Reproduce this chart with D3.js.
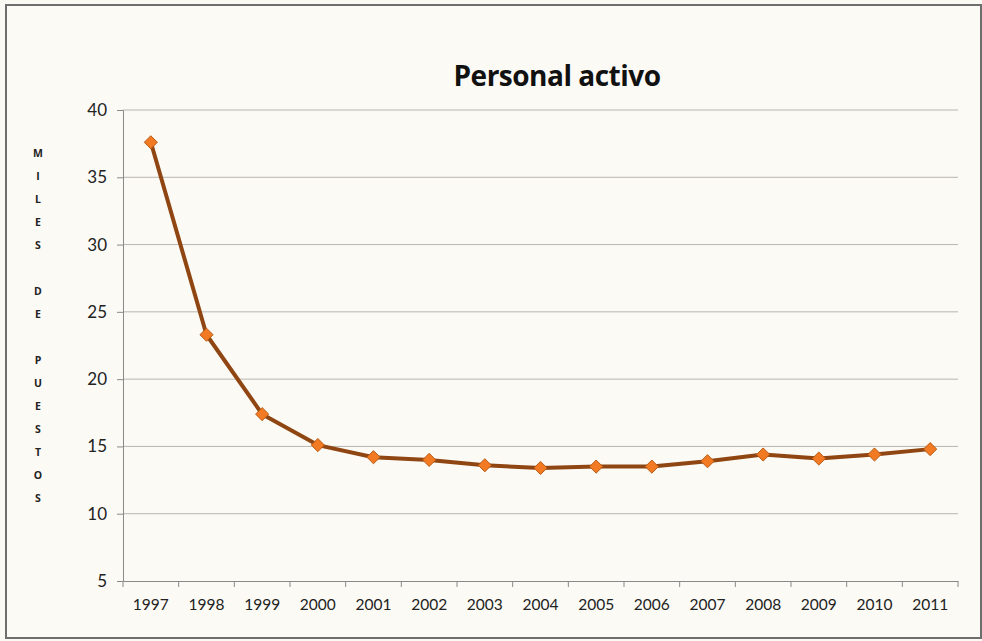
<!DOCTYPE html>
<html>
<head>
<meta charset="utf-8">
<script src="https://cdn.jsdelivr.net/npm/d3@7"></script>
<style>
  body { margin: 0; background: #fbf9f3; }
  svg { display: block; }
</style>
</head>
<body>
<div id="chart"></div>
<script>
// data (miles de puestos)
const years = ["1997","1998","1999","2000","2001","2002","2003","2004","2005","2006","2007","2008","2009","2010","2011"];
const values = [37.6, 23.3, 17.4, 15.1, 14.2, 14.0, 13.6, 13.4, 13.5, 13.5, 13.9, 14.4, 14.1, 14.4, 14.8];
const yTicks = [5, 10, 15, 20, 25, 30, 35, 40];
const axisLetters = ["M","I","L","E","S","","D","E","","P","U","E","S","T","O","S"];

const W = 982, H = 641;
const margin = {top: 110, right: 24, bottom: 60, left: 123};
const width = W - margin.left - margin.right,
      height = H - margin.top - margin.bottom;

const svg = d3.select("#chart")
  .append("svg")
    .attr("width", W)
    .attr("height", H);

// outer frame
svg.append("rect")
  .attr("x", 6).attr("y", 5)
  .attr("width", 975).attr("height", 633)
  .attr("fill", "#fcfaf5")
  .attr("stroke", "#6e6e6e")
  .attr("stroke-width", 2);

svg.append("text")
  .attr("x", 557).attr("y", 86)
  .attr("text-anchor", "middle")
  .style("font-family", "'Open Sans', Lato, sans-serif")
  .style("font-weight", "bold")
  .style("font-size", "28px")
  .style("letter-spacing", "-0.5px")
  .attr("fill", "#111")
  .text("Personal activo");

const g = svg.append("g")
  .attr("transform", "translate(" + margin.left + "," + margin.top + ")");

const x = d3.scaleBand()
  .domain(years)
  .range([0, width]);

const y = d3.scaleLinear()
  .domain([5, 40])
  .range([height, 0]);

// gridlines
g.selectAll(".grid")
  .data(yTicks.filter(d => d > 5))
  .enter()
  .append("line")
    .attr("class", "grid")
    .attr("x1", 0).attr("x2", width)
    .attr("y1", d => y(d)).attr("y2", d => y(d))
    .attr("stroke", "#b8b6b0")
    .attr("stroke-width", 1);

// y axis
const yAxis = g.append("g")
  .call(d3.axisLeft(y).tickValues(yTicks).tickSize(6).tickPadding(10));
yAxis.select(".domain").attr("stroke", "#8a8a8a");
yAxis.selectAll(".tick line").attr("stroke", "#8a8a8a");
yAxis.selectAll("text")
  .style("font-family", "Lato, 'Open Sans', sans-serif")
  .style("font-size", "17px")
  .attr("fill", "#222");

// x axis with ticks on band boundaries
const xAxis = g.append("g")
  .attr("transform", "translate(0," + height + ")")
  .call(d3.axisBottom(x).tickSize(0).tickPadding(18));
xAxis.select(".domain").attr("stroke", "#8a8a8a");
xAxis.selectAll("text")
  .style("font-family", "Lato, 'Open Sans', sans-serif")
  .style("font-size", "15.5px")
  .attr("fill", "#222");
xAxis.selectAll(".bound")
  .data(d3.range(years.length + 1))
  .enter()
  .append("line")
    .attr("class", "bound")
    .attr("x1", i => i * x.step()).attr("x2", i => i * x.step())
    .attr("y1", 0).attr("y2", 6)
    .attr("stroke", "#8a8a8a");

// vertical axis title, one letter per line
svg.append("g")
  .selectAll("text")
  .data(axisLetters)
  .enter()
  .append("text")
    .attr("x", 38)
    .attr("y", (d, i) => 157 + i * 23)
    .attr("text-anchor", "middle")
    .style("font-family", "'Open Sans', sans-serif")
    .style("font-weight", "bold")
    .style("font-size", "10.5px")
    .attr("fill", "#222")
    .text(d => d);

const line = d3.line()
  .x((d, i) => x(years[i]) + x.bandwidth() / 2)
  .y(d => y(d));

g.append("path")
  .datum(values)
  .attr("fill", "none")
  .attr("stroke", "#8f4612")
  .attr("stroke-width", 4)
  .attr("stroke-linejoin", "round")
  .attr("d", line);

g.selectAll(".dot")
  .data(values)
  .enter()
  .append("path")
    .attr("class", "dot")
    .attr("d", d3.symbol().type(d3.symbolDiamond2).size(110))
    .attr("transform", (d, i) => "translate(" + (x(years[i]) + x.bandwidth() / 2) + "," + y(d) + ")")
    .attr("fill", "#f27a22")
    .attr("stroke", "#b85a14")
    .attr("stroke-width", 1)
    .attr("stroke-linejoin", "round");
</script>
</body>
</html>
